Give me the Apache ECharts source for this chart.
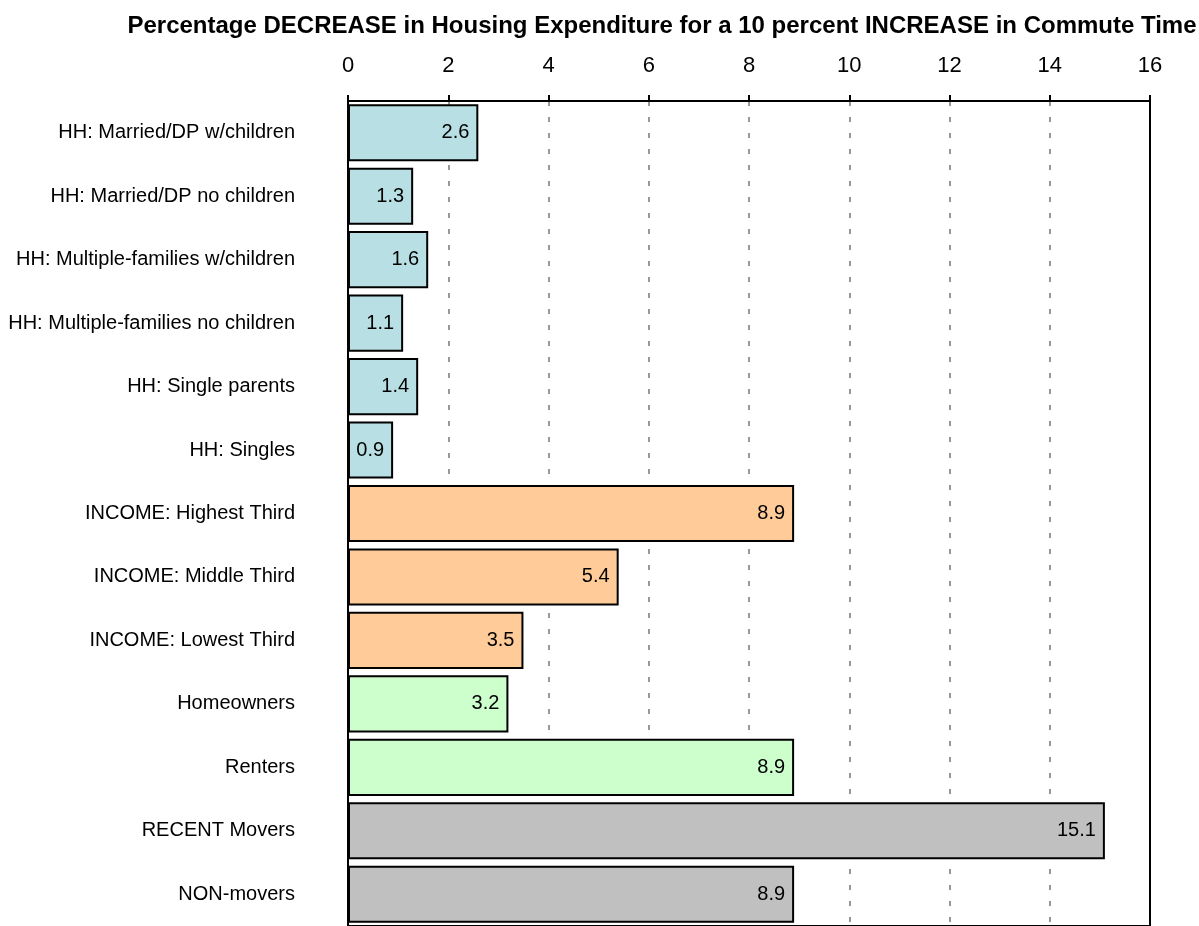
<!DOCTYPE html>
<html>
<head>
<meta charset="utf-8">
<script src="https://cdn.jsdelivr.net/npm/echarts@6/dist/echarts.min.js"></script>
<style>html,body{margin:0;padding:0;background:#fff}#c{width:1199px;height:926px}</style>
</head>
<body>
<div id="c"></div>
<script>
var categories = [
  'HH: Married/DP w/children',
  'HH: Married/DP no children',
  'HH: Multiple-families w/children',
  'HH: Multiple-families no children',
  'HH: Single parents',
  'HH: Singles',
  'INCOME: Highest Third',
  'INCOME: Middle Third',
  'INCOME: Lowest Third',
  'Homeowners',
  'Renters',
  'RECENT Movers',
  'NON-movers'
];
var values = [2.6, 1.3, 1.6, 1.1, 1.4, 0.9, 8.9, 5.4, 3.5, 3.2, 8.9, 15.1, 8.9];
var groups = ['HH','HH','HH','HH','HH','HH','INC','INC','INC','TEN','TEN','MOV','MOV'];
var groupColors = {HH:'#B8E0E4', INC:'#FFCC99', TEN:'#CCFFCC', MOV:'#C0C0C0'};
var titleText = 'Percentage DECREASE in Housing Expenditure for a 10 percent INCREASE in Commute Time';

var chart = echarts.init(document.getElementById('c'), null, {renderer:'canvas'});
chart.setOption({
  animation:false,
  title:{text:titleText, left:657, textAlign:'center', top:9,
    textStyle:{fontFamily:'Arial, Liberation Sans', fontSize:24, fontWeight:'bold', color:'#000'}},
  grid:{left:348, right:49, top:101, bottom:-2, show:true, borderColor:'#000', borderWidth:2, backgroundColor:'transparent'},
  xAxis:{type:'value', position:'top', min:0, max:16, interval:2,
    axisLine:{show:true, lineStyle:{color:'#000', width:2}},
    axisTick:{show:true, inside:false, length:6, lineStyle:{color:'#000', width:2}},
    axisLabel:{margin:24, fontFamily:'Arial, Liberation Sans', fontSize:22, color:'#000'},
    splitLine:{show:true, showMinLine:false, showMaxLine:false, lineStyle:{color:'#999', width:2, type:[5,11]}}
  },
  yAxis:{type:'category', data:categories, inverse:true,
    axisLine:{show:true, lineStyle:{color:'#000', width:2}},
    axisTick:{show:false},
    axisLabel:{margin:53, fontFamily:'Arial, Liberation Sans', fontSize:20, color:'#000'}
  },
  series:[{type:'bar', data:values.map(function(v,i){return {value:v, itemStyle:{color:groupColors[groups[i]]}};}),
    barCategoryGap:'10%',
    itemStyle:{borderColor:'#000', borderWidth:2},
    label:{show:true, position:'insideRight', distance:9, fontFamily:'Arial, Liberation Sans', fontSize:20, color:'#000',
      formatter:function(p){return p.value.toFixed(1);}}
  }]
});
</script>
</body>
</html>
